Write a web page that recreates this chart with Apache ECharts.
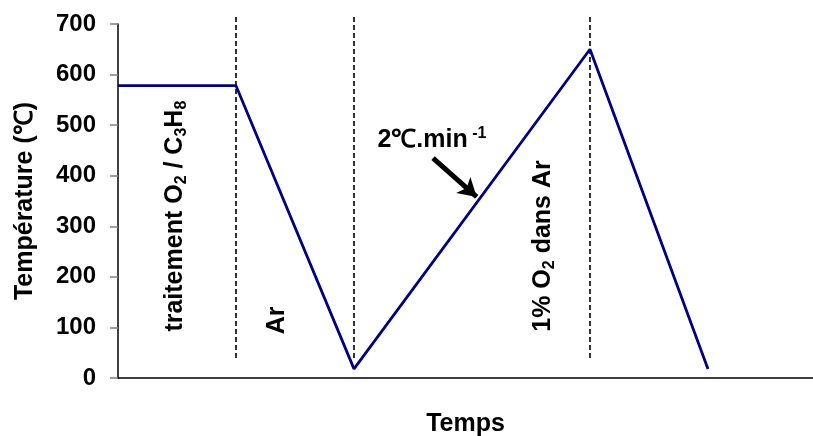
<!DOCTYPE html>
<html>
<head>
<meta charset="utf-8">
<title>Température</title>
<script src="https://cdn.jsdelivr.net/npm/echarts@6/dist/echarts.min.js"></script>
<style>
  html, body { margin: 0; padding: 0; background: #fff; }
  #chart { width: 813px; height: 436px; }
</style>
</head>
<body>
<div id="chart"></div>
<script>
// data
var times = [0, 1, 2, 4, 5];
var temps = [578, 578, 18, 650, 18];
var phaseBounds = [1, 2, 4];          // dashed separators (time)
var boundSpan = [714, 36];            // top / bottom of dashed lines
var yMin = 0, yMax = 700, yStep = 100;
var xMax = 5.89;
var arrowFrom = [2.67, 435], arrowTo = [3.04, 358];

var FONT = 'Liberation Sans';
var chart = echarts.init(document.getElementById('chart'));

var bold = { fontFamily: FONT, fontWeight: 'bold', fontSize: 25, color: '#000', lineHeight: 30 };
var sub = { fontFamily: FONT, fontWeight: 'bold', fontSize: 16, color: '#000', lineHeight: 30, verticalAlign: 'bottom' };
var sup = { fontFamily: FONT, fontWeight: 'bold', fontSize: 16, color: '#000', lineHeight: 30, verticalAlign: 'top' };

// vertical dashed separators as small line series (not clipped, they poke above 700)
var dashSeries = phaseBounds.map(function (t) {
    return {
        type: 'line',
        data: [[t, boundSpan[0]], [t, boundSpan[1]]],
        symbol: 'none',
        clip: false,
        silent: true,
        lineStyle: { color: '#000', type: [5, 3], width: 1.6 }
    };
});

var option = {
    animation: false,
    grid: { left: 118, right: 0, top: 24, bottom: 58, containLabel: false, outerBoundsMode: 'none' },
    xAxis: {
        type: 'value',
        min: 0, max: xMax,
        name: 'Temps',
        nameLocation: 'middle',
        nameGap: 34,
        nameTextStyle: { fontFamily: FONT, fontWeight: 'bold', fontSize: 25, color: '#000' },
        axisLine: { show: true, lineStyle: { color: '#000', width: 1.5 } },
        axisTick: { show: false },
        axisLabel: { show: false },
        splitLine: { show: false }
    },
    yAxis: {
        type: 'value',
        min: yMin, max: yMax, interval: yStep,
        name: 'Température (℃)',
        nameLocation: 'middle',
        nameGap: 80,
        nameRotate: 90,
        nameTextStyle: { fontFamily: FONT, fontWeight: 'bold', fontSize: 25, color: '#000' },
        axisLine: { show: true, lineStyle: { color: '#000', width: 1.5 } },
        axisTick: { show: true, inside: false, length: 8, lineStyle: { color: '#808080', width: 1.5 } },
        axisLabel: { margin: 22, fontFamily: FONT, fontWeight: 'bold', fontSize: 24, color: '#000' },
        splitLine: { show: false }
    },
    series: dashSeries.concat([
        {
            type: 'line',
            data: times.map(function (t, i) { return [t, temps[i]]; }),
            symbol: 'none',
            z: 3,
            lineStyle: { color: '#000080', width: 2.8 }
        },
        {
            type: 'line',
            data: [],
            markLine: {
                silent: true,
                symbol: ['none', 'arrow'],
                symbolSize: [16, 18],
                label: { show: false },
                lineStyle: { color: '#000', type: 'solid', width: 5 },
                data: [[{ coord: arrowFrom }, { coord: arrowTo }]]
            }
        }
    ])
};
chart.setOption(option);

// annotations, placed through the axes
var labels = [
    { at: [0.48, 320], rot: true, text: '{b|traitement O}{s|2}{b| / C}{s|3}{b|H}{s|8}' },
    { at: [1.35, 114], rot: true, text: '{b|Ar}' },
    { at: [3.6, 261], rot: true, text: '{b|1% O}{s|2}{b| dans Ar}' },
    { at: [2.66, 470], rot: false, text: '{b|2℃.min}{p| -1}' }
];
chart.setOption({
    graphic: labels.map(function (l) {
        var p = chart.convertToPixel({ gridIndex: 0 }, l.at);
        return {
            type: 'text',
            x: p[0], y: p[1],
            rotation: l.rot ? Math.PI / 2 : 0,
            silent: true,
            style: {
                text: l.text,
                align: 'center',
                verticalAlign: 'middle',
                rich: { b: bold, s: sub, p: sup }
            }
        };
    })
});
</script>
</body>
</html>
